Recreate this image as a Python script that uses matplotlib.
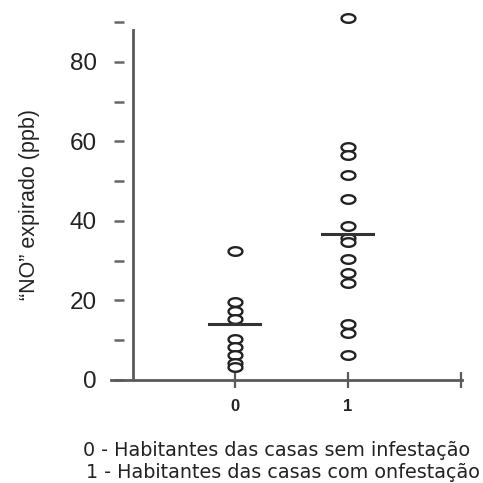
import matplotlib
matplotlib.use("Agg")
import matplotlib.pyplot as plt
import numpy as np
from matplotlib.path import Path

plt.rcParams['font.family'] = ['Liberation Sans', 'DejaVu Sans']

groups = [0, 1]
group0 = [32.5, 19.5, 17.3, 15.4, 10.4, 8.3, 6.3, 4.3, 3.2]
group1 = [91, 58.5, 56.5, 51.5, 45.4, 38.7, 35.8, 34.6, 30.4, 26.8, 24.3, 14.2, 11.7, 6.2]
medians = [14, 36.7]
ytick_major = [0, 20, 40, 60, 80]
ytick_minor = [10, 30, 50, 70, 90]
ylabel = "\u201cNO\u201d expirado (ppb)"
legend_lines = ["0 - Habitantes das casas sem infesta\u00e7\u00e3o",
                "1 - Habitantes das casas com onfesta\u00e7\u00e3o"]

W = 483
fig = plt.figure(figsize=(4.83, 4.83), dpi=100)
ax = fig.add_axes([111 / W, (W - 380) / W, (462 - 111) / W, 370 / W])
ax.set_xlim(-1.097, 2.009)
ax.set_ylim(0, 93)

# ellipse marker
t = np.linspace(0, 2 * np.pi, 60)
ell = Path(np.column_stack([np.cos(t), 0.62 * np.sin(t)]))

axis_col = '#5a5a5a'
for g, vals in zip(groups, [group0, group1]):
    ax.plot([g] * len(vals), vals, linestyle='none', marker=ell, markersize=10,
            markerfacecolor='white', markeredgecolor='#222222', markeredgewidth=1.7,
            clip_on=False, zorder=3)
for g, m in zip(groups, medians):
    ax.plot([g - 0.23, g + 0.22], [m, m], color='#333333', lw=2.2, zorder=4)

for s in ['top', 'right']:
    ax.spines[s].set_visible(False)
ax.spines['bottom'].set_color(axis_col)
ax.spines['bottom'].set_linewidth(2)
ax.spines['left'].set_color('none')
ax.spines['left'].set_position(('outward', -2))

ax.axvline(-0.9, ymin=0, ymax=88 / 93, color=axis_col, lw=2, zorder=2)

ax.set_yticks(ytick_major)
ax.set_yticks(ytick_minor, minor=True)
ax.tick_params(axis='y', which='both', direction='in', length=7, width=1.8,
               color='#666666', pad=12, labelsize=17.5, labelcolor='#222222')
ax.set_xticks([0, 1, 2])
ax.set_xticklabels(['0', '1', ''], fontweight='bold', fontsize=12, color='#222222')
ax.tick_params(axis='x', direction='inout', length=12, width=1.6, color=axis_col,
               pad=8)

fig.text(30 / W, 1 - 204 / W, ylabel, rotation=90, ha='center', va='center',
         fontsize=15.5, color='#222222')
fig.text(83 / W, 1 - 450 / W, legend_lines[0], ha='left', va='center',
         fontsize=13.8, color='#222222', family='DejaVu Sans')
fig.text(86 / W, 1 - 473 / W, legend_lines[1], ha='left', va='center',
         fontsize=13.8, color='#222222', family='DejaVu Sans')

fig.savefig('out.png', dpi=100)
